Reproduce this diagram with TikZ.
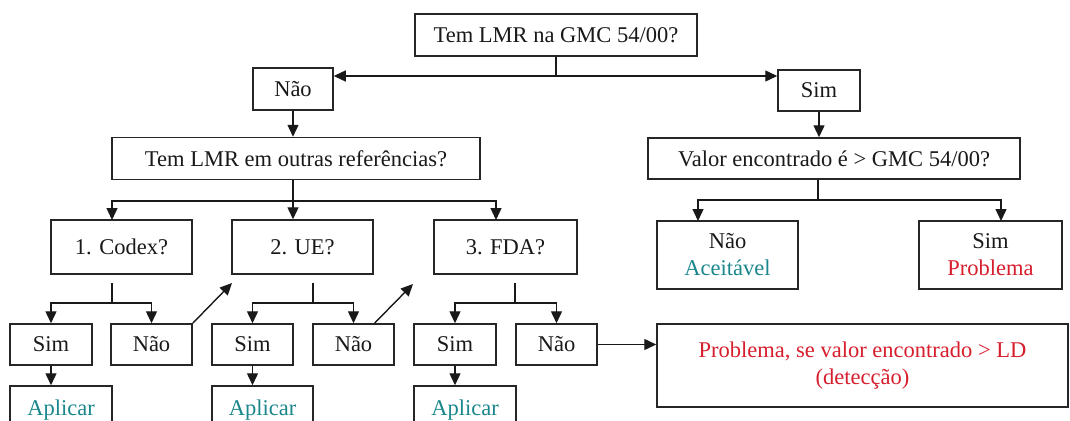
\documentclass[tikz,border=0pt]{standalone}
\usepackage{fontspec}
\setmainfont{Liberation Serif}
\usetikzlibrary{arrows.meta,calc}
\definecolor{okteal}{RGB}{25,135,140}
\definecolor{badred}{RGB}{215,30,45}
\tikzset{
  box/.style={draw=black!85, line width=1.5pt, rectangle, inner sep=0pt, align=center,
    font=\fontsize{22.5}{27}\selectfont, text=black!90},
  arr/.style={-{Triangle[length=12pt,width=11pt]}, line width=1.4pt, draw=black!90},
  ln/.style={line width=1.4pt, draw=black!90}
}
\begin{document}
\begin{tikzpicture}[x=1pt,y=-1pt]
\useasboundingbox (0,0) rectangle (1070,420);
\clip (0,0) rectangle (1070,420);
\fill[white] (0,0) rectangle (1070,420);
% level 0
\node[box, minimum width=282, minimum height=42] (top) at (556,35) {Tem LMR na GMC 54/00?};
% level 1
\node[box, minimum width=80, minimum height=42] (nao1) at (293,89) {Não};
\node[box, minimum width=82, minimum height=41] (sim1) at (819,90.5) {Sim};
% level 2
\node[box, minimum width=368, minimum height=42] (q2L) at (296,158.5) {Tem LMR em outras referências?};
\node[box, minimum width=372, minimum height=41] (q2R) at (834,158.5) {Valor encontrado é > GMC 54/00?};
% level 3 left
\node[box, minimum width=141, minimum height=54] (codex) at (121.5,247) {1. Codex?};
\node[box, minimum width=141, minimum height=54] (ue) at (302.5,247) {2. UE?};
\node[box, minimum width=143, minimum height=54] (fda) at (505.5,247) {3. FDA?};
% level 3 right
\node[box, minimum width=141, minimum height=68] (rn) at (727.5,255) {Não\\\textcolor{okteal}{Aceitável}};
\node[box, minimum width=143, minimum height=68] (rs) at (990.5,255) {Sim\\\textcolor{badred}{Problema}};
% level 4
\node[box, minimum width=82, minimum height=41] (s1) at (51,344.5) {Sim};
\node[box, minimum width=81, minimum height=41] (n1) at (151.5,344.5) {Não};
\node[box, minimum width=81, minimum height=41] (s2) at (252.5,344.5) {Sim};
\node[box, minimum width=81, minimum height=41] (n2) at (353.5,344.5) {Não};
\node[box, minimum width=82, minimum height=41] (s3) at (455,344.5) {Sim};
\node[box, minimum width=81, minimum height=41] (n3) at (556.5,344.5) {Não};
\node[box, minimum width=411, minimum height=83] (pb) at (862.5,365.5) {\textcolor{badred}{Problema, se valor encontrado > LD}\\\textcolor{badred}{(detecção)}};
% level 5
\node[box, minimum width=102, minimum height=48] (a1) at (61,410) {\textcolor{okteal}{Aplicar}};
\node[box, minimum width=101, minimum height=48] (a2) at (262.5,410) {\textcolor{okteal}{Aplicar}};
\node[box, minimum width=102, minimum height=48] (a3) at (465,410) {\textcolor{okteal}{Aplicar}};
% coordinates
\coordinate (j0) at (556,76);
\coordinate (jL) at (293,201);
\coordinate (jR) at (818,200);
\coordinate (cdxA) at (112,220);
\coordinate (fdaA) at (496,220);
\coordinate (rnA) at (698,221);
\coordinate (rsA) at (1001,221);
\coordinate (c1t) at (112,283);
\coordinate (c1j) at (112,303);
\coordinate (c2t) at (313,283);
\coordinate (c2j) at (313,303);
\coordinate (c3t) at (515,283);
\coordinate (c3j) at (515,303);
\coordinate (d1) at (232,283);
\coordinate (d2) at (413,284);
% connectors
\draw[ln] (top.south) -- (j0);
\draw[arr] (j0) -- (j0 -| nao1.east);
\draw[arr] (j0) -- (j0 -| sim1.west);
\draw[arr] (nao1.south) -- (nao1.south |- q2L.north);
\draw[arr] (sim1.south) -- (sim1.south |- q2R.north);
\draw[ln] (q2L.south -| jL) -- (jL);
\draw[arr] (jL) -| (cdxA);
\draw[arr] (jL) -- (jL |- ue.north);
\draw[arr] (jL) -| (fdaA);
\draw[ln] (q2R.south -| jR) -- (jR);
\draw[arr] (jR) -| (rnA);
\draw[arr] (jR) -| (rsA);
\draw[ln] (c1t) -- (c1j);
\draw[arr] (c1j) -| (s1.north);
\draw[arr] (c1j) -| (n1.north);
\draw[ln] (c2t) -- (c2j);
\draw[arr] (c2j) -| (s2.north);
\draw[arr] (c2j) -| (n2.north);
\draw[ln] (c3t) -- (c3j);
\draw[arr] (c3j) -| (s3.north);
\draw[arr] (c3j) -| (n3.north);
\draw[arr] (s1.south) -- (s1.south |- a1.north);
\draw[arr] (s2.south) -- (s2.south |- a2.north);
\draw[arr] (s3.south) -- (s3.south |- a3.north);
\draw[arr] (n1.north east) -- (d1);
\draw[arr] ($(n2.north)+(21,0)$) -- (d2);
\draw[arr] (n3.east) -- (n3.east -| pb.west);
\end{tikzpicture}
\end{document}
